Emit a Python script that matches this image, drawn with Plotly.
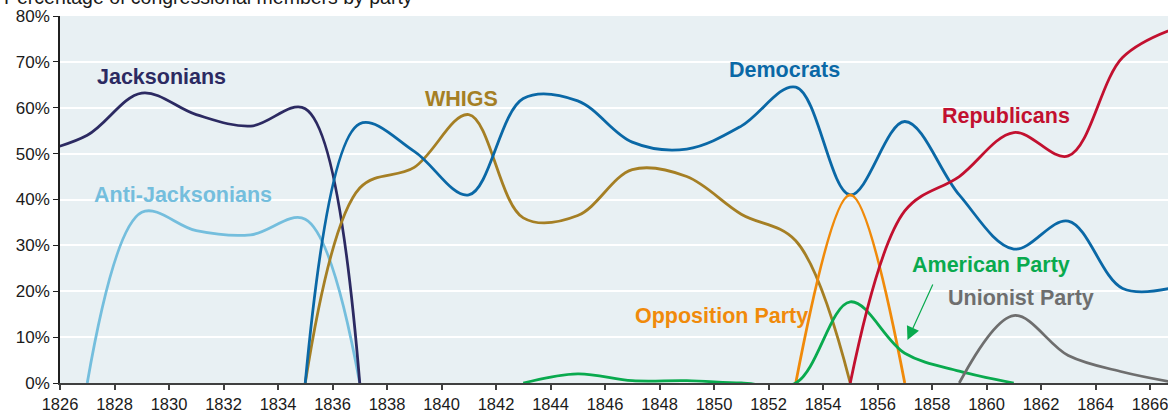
import plotly.graph_objects as go

years = [1825, 1827, 1829, 1831, 1833, 1835, 1837, 1839, 1841, 1843, 1845,
         1847, 1849, 1851, 1853, 1855, 1857, 1859, 1861, 1863, 1865, 1867]
N = None
jacksonians =      [50, 54, 63.2, 58.5, 56, 59.8, 0, N, N, N, N, N, N, N, N, N, N, N, N, N, N, N]
anti_jacksonians = [N, 0, 37.2, 33.2, 32.3, 35.7, 0, N, N, N, N, N, N, N, N, N, N, N, N, N, N, N]
whigs =            [N, N, N, N, N, 0, 42.5, 47, 58.5, 36, 36.5, 46.5, 45, 36.8, 31, 0, N, N, N, N, N, N]
democrats =        [N, N, N, N, N, 0, 56.5, 50.5, 41, 62, 61.5, 52.5, 51, 56, 64.5, 41, 57, 41, 29.2, 35.3, 20.6, 21]
opposition =       [N, N, N, N, N, N, N, N, N, N, N, N, N, N, 0, 41, 0, N, N, N, N, N]
american =         [N, N, N, N, N, N, N, N, N, 0, 2, 0.5, 0.5, 0, 0, 17.7, 6.5, 2.6, 0, N, N, N]
republicans =      [N, N, N, N, N, N, N, N, N, N, N, N, N, N, N, 0, 37.5, 45, 54.6, 49.5, 71, 77.5]
unionist =         [N, N, N, N, N, N, N, N, N, N, N, N, N, N, N, N, N, 0, 14.7, 6, 2.4, 0]

series = [
    ("Anti-Jacksonians", anti_jacksonians, "#74bedd"),
    ("Jacksonians", jacksonians, "#2c2a62"),
    ("WHIGS", whigs, "#a57f24"),
    ("Democrats", democrats, "#0a68a6"),
    ("Opposition Party", opposition, "#f08a0a"),
    ("American Party", american, "#09aa4e"),
    ("Republicans", republicans, "#c2102f"),
    ("Unionist Party", unionist, "#6e6e6e"),
]

# label positions (layout, in axis units)
labels = [
    ("Jacksonians", 1829.74, 66.7, "#2c2a62"),
    ("Anti-Jacksonians", 1830.51, 40.9, "#74bedd"),
    ("WHIGS", 1840.75, 62.0, "#a57f24"),
    ("Democrats", 1852.59, 68.3, "#0a68a6"),
    ("Republicans", 1860.73, 58.2, "#c2102f"),
    ("American Party", 1860.15, 25.7, "#09aa4e"),
    ("Unionist Party", 1861.28, 18.5, "#6e6e6e"),
    ("Opposition Party", 1850.28, 14.6, "#f08a0a"),
]

FONT = "Liberation Sans, Arial, sans-serif"

fig = go.Figure()
for name, vals, col in series:
    fig.add_trace(go.Scatter(
        x=years, y=vals, mode="lines", name=name,
        line=dict(color=col, width=2.8, shape="spline", smoothing=1.0),
        connectgaps=False, showlegend=False, hoverinfo="skip",
    ))

ann = []
for text, x, y, col in labels:
    ann.append(dict(text=text, x=x, y=y, xref="x", yref="y", showarrow=False,
                    font=dict(family=FONT, size=21.5, color=col, weight="bold"),
                    xanchor="center", yanchor="middle"))
# arrow for American Party
ann.append(dict(text="", x=1857.1, y=9.37, xref="x", yref="y", showarrow=True,
                ax=26, ay=-57, axref="pixel", ayref="pixel",
                arrowhead=2, arrowsize=2.2, arrowwidth=1.2, arrowcolor="#09aa4e"))
# title (partially cut at top)
ann.append(dict(text="Percentage of congressional members by party",
                x=-58 / 1108, y=1, xref="paper", yref="paper",
                xanchor="left", yanchor="middle", yshift=19.5, showarrow=False,
                font=dict(family=FONT, size=19.5, color="#1a1a1a")))

fig.update_layout(
    width=1168, height=413,
    margin=dict(l=60, r=0, t=16, b=30),
    paper_bgcolor="white",
    plot_bgcolor="#e8f0f3",
    font=dict(family=FONT, color="#1a1a1a"),
    annotations=ann,
    xaxis=dict(
        range=[1826, 1826 + 1108 / 27.25],
        tick0=1826, dtick=2, ticks="outside", ticklen=5, tickwidth=1.5,
        tickcolor="#404040", showline=True, linecolor="#404040", linewidth=2,
        showgrid=False, zeroline=False, automargin=False, ticklabeloverflow="allow",
        tickfont=dict(family=FONT, size=16.5, color="#1a1a1a"),
    ),
    yaxis=dict(
        range=[0, 80], tick0=0, dtick=10, ticksuffix="%",
        ticks="outside", ticklen=5, tickwidth=1.2, tickcolor="#202020",
        showline=True, linecolor="#202020", linewidth=1.5,
        showgrid=True, gridcolor="white", gridwidth=2, zeroline=False, automargin=False,
        tickfont=dict(family=FONT, size=17, color="#1a1a1a"),
    ),
)

fig.write_html("out.html",
               config={"displayModeBar": False},
               post_script="document.body.style.margin='0';document.body.style.overflow='hidden';")
